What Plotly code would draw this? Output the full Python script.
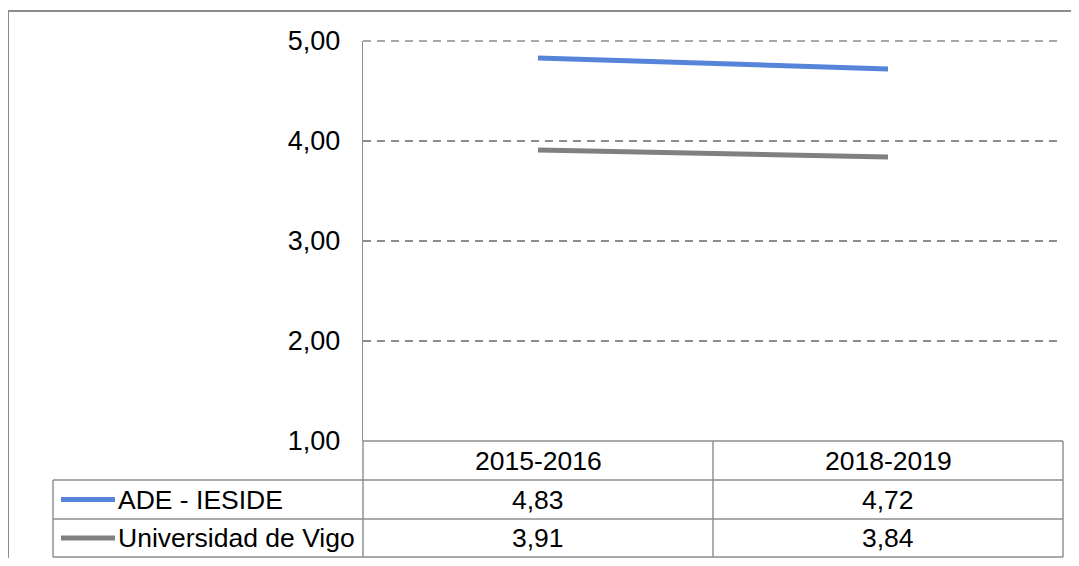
import plotly.graph_objects as go

categories = ["2015-2016", "2018-2019"]
series_names = ["ADE - IESIDE", "Universidad de Vigo"]
ade_values = [4.83, 4.72]
vigo_values = [3.91, 3.84]
y_ticks = [1, 2, 3, 4, 5]

# page body has an 8px margin; work in reference pixel coordinates and shift
OFF = 8
W, H = 1079 - OFF, 558 - OFF
L, R, T, B = 363 - OFF, 1063 - OFF, 41 - OFF, 441 - OFF
colors = ["#5684D9", "#808080"]
grid_col = "#8C8C8C"
FONT = "Liberation Sans, Arial, sans-serif"
FS = 26.5
FS_TICK = 27


def px(x):
    return (x - OFF - L) / (R - L)


def py(y):
    return (B - (y - OFF)) / (B - T)


fig = go.Figure()
for name, vals, col in zip(series_names, [ade_values, vigo_values], colors):
    fig.add_trace(go.Scatter(x=categories, y=vals, mode="lines", name=name,
                             line=dict(color=col, width=5), showlegend=False))

shapes = []
def line(x0, y0, x1, y1, color=grid_col, width=1.4, dash="solid", layer="above"):
    shapes.append(dict(type="line", xref="paper", yref="paper",
                       x0=px(x0), y0=py(y0), x1=px(x1), y1=py(y1),
                       line=dict(color=color, width=width, dash=dash), layer=layer))

# outer frame
line(8, 11, 1079, 11, "#8C8C8C", 2)
line(8, 11, 8, 566, "#8C8C8C", 2)

# top gridline (range edge)
line(363, 41, 1063, 41, grid_col, 1.5, "8px,6px", "below")

# data table
row_y = [441, 480, 519, 557]
col_x = [53, 363, 713, 1063]
line(363, 441, 1063, 441)
for y in row_y[1:]:
    line(53, y, 1063, y)
line(53, 480, 53, 557)
for x in col_x[1:]:
    line(x, 441, x, 557)

annotations = []
row_centers = [461, 499.5, 538]
col_centers = [538, 888]
for c, cat in zip(col_centers, categories):
    annotations.append(dict(xref="paper", yref="paper", x=px(c), y=py(row_centers[0]),
                            text=cat, showarrow=False, xanchor="center", yanchor="middle",
                            font=dict(family=FONT, size=FS, color="#000")))
for i, (name, vals, col) in enumerate(zip(series_names, [ade_values, vigo_values], colors)):
    yc = row_centers[i + 1]
    shapes.append(dict(type="line", xref="paper", yref="paper",
                       x0=px(61), x1=px(115), y0=py(yc), y1=py(yc),
                       line=dict(color=col, width=5), layer="above"))
    annotations.append(dict(xref="paper", yref="paper", x=px(116), y=py(yc),
                            text=name, showarrow=False, xanchor="left", yanchor="middle",
                            font=dict(family=FONT, size=FS, color="#000")))
    for c, v in zip(col_centers, vals):
        annotations.append(dict(xref="paper", yref="paper", x=px(c), y=py(yc),
                                text=f"{v:.2f}".replace(".", ","), showarrow=False,
                                xanchor="center", yanchor="middle",
                                font=dict(family=FONT, size=FS, color="#000")))

fig.update_layout(
    width=W, height=H,
    margin=dict(l=L, r=W - R, t=T, b=H - B, pad=0),
    paper_bgcolor="white", plot_bgcolor="white",
    separators=",.",
    font=dict(family=FONT, size=FS, color="#000"),
    xaxis=dict(range=[-0.5, 1.5], showticklabels=False, showgrid=False,
               zeroline=False, showline=False, fixedrange=True),
    yaxis=dict(range=[1, 5], tickvals=y_ticks, tickformat=".2f",
               showgrid=True, gridcolor=grid_col, gridwidth=1.5, griddash="8px,6px",
               zeroline=False, showline=True, linecolor=grid_col, linewidth=1.4,
               ticks="outside", ticklen=16, tickcolor="rgba(0,0,0,0)",
               tickfont=dict(family=FONT, size=FS_TICK, color="#000")),
    shapes=shapes,
    annotations=annotations,
)

fig.write_html("out.html")
